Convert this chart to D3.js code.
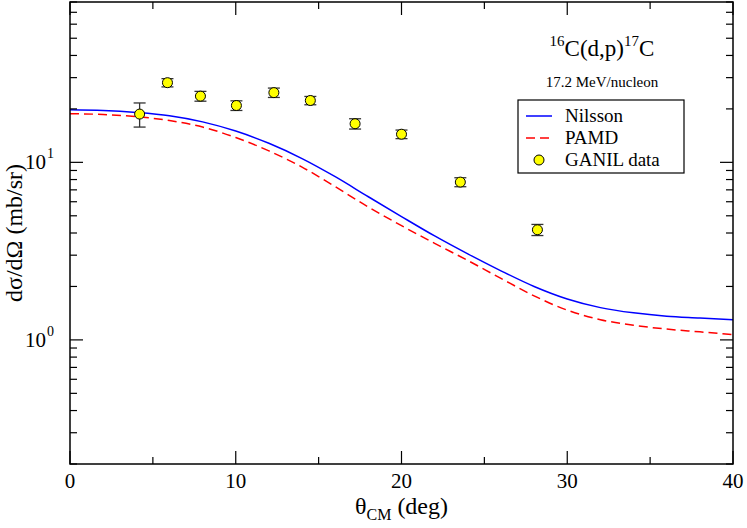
<!DOCTYPE html>
<html><head><meta charset="utf-8">
<script src="https://cdn.jsdelivr.net/npm/d3@7"></script>
<style>body{margin:0;background:#fff}svg{font-family:"Liberation Serif","DejaVu Serif",serif}</style>
</head><body><svg id="c" width="747" height="528"></svg>
<script>
const nilssonX = [0,2,4,6,8,10,12,14,16,18,20,22,24,26,28,30,32,34,36,38,40];
const nilssonY = [19.8,19.6,19.1,18.3,16.9,15.0,12.8,10.5,8.3,6.4,4.95,3.85,3.05,2.45,2.0,1.7,1.52,1.42,1.36,1.33,1.30];
const pamdX = [0,2,4,6,8,10,12,14,16,18,20,22,24,26,28,30,32,34,36,38,40];
const pamdY = [18.8,18.6,18.1,17.2,15.8,13.8,11.6,9.4,7.3,5.6,4.4,3.5,2.8,2.22,1.77,1.47,1.30,1.21,1.15,1.11,1.07];
const dataX = [4.2,5.88,7.87,10.04,12.3,14.5,17.2,20.0,23.55,28.2];
const dataY = [18.7,28.1,23.6,20.9,24.7,22.3,16.5,14.4,7.74,4.17];
const dataErr = [2.9,1.5,1.5,1.3,1.5,1.2,1.1,0.8,0.45,0.3];
const xTicks = [0,10,20,30,40];
const yTicks = [1,10];

const svg = d3.select("#c");
const L=70,R=733,T=2,B=464;
const x = d3.scaleLinear().domain([0,40]).range([L,R]);
const y = d3.scaleLog().domain([0.2,80]).range([B,T]);

const g = svg.append("g");
const line = d3.line().curve(d3.curveMonotoneX);
g.append("path").attr("d", line(pamdX.map((d,i)=>[x(d),y(pamdY[i])]))).attr("fill","none").attr("stroke","#ff0000").attr("stroke-width",1.5).attr("stroke-dasharray","9,5");
g.append("path").attr("d", line(nilssonX.map((d,i)=>[x(d),y(nilssonY[i])]))).attr("fill","none").attr("stroke","#0000ff").attr("stroke-width",1.5);
dataX.forEach((d,i)=>{
  const cx=x(d), y1=y(dataY[i]+dataErr[i]), y2=y(dataY[i]-dataErr[i]);
  const e=g.append("g").attr("stroke","#333").attr("stroke-width",1.3);
  e.append("line").attr("x1",cx).attr("x2",cx).attr("y1",y1).attr("y2",y2);
  e.append("line").attr("x1",cx-6).attr("x2",cx+6).attr("y1",y1).attr("y2",y1);
  e.append("line").attr("x1",cx-6).attr("x2",cx+6).attr("y1",y2).attr("y2",y2);
});
g.selectAll("circle.d").data(dataX).join("circle").attr("cx",d=>x(d)).attr("cy",(d,i)=>y(dataY[i])).attr("r",5).attr("fill","#ffff00").attr("stroke","#000").attr("stroke-width",1);

svg.append("rect").attr("x",L).attr("y",T).attr("width",R-L).attr("height",B-T).attr("fill","none").attr("stroke","#000").attr("stroke-width",1.5);
const tk = svg.append("g").attr("stroke","#000").attr("stroke-width",1.2);
d3.range(0,41,5).forEach(v=>{
  const len = v%10===0?13:7;
  tk.append("line").attr("x1",x(v)).attr("x2",x(v)).attr("y1",B).attr("y2",B-len);
  tk.append("line").attr("x1",x(v)).attr("x2",x(v)).attr("y1",T).attr("y2",T+len);
});
const minors=[0.2,0.3,0.4,0.5,0.6,0.7,0.8,0.9,2,3,4,5,6,7,8,9,20,30,40,50,60,70,80];
minors.forEach(v=>{
  tk.append("line").attr("x1",L).attr("x2",L+7).attr("y1",y(v)).attr("y2",y(v));
  tk.append("line").attr("x1",R).attr("x2",R-7).attr("y1",y(v)).attr("y2",y(v));
});
yTicks.forEach(v=>{
  tk.append("line").attr("x1",L).attr("x2",L+13).attr("y1",y(v)).attr("y2",y(v));
  tk.append("line").attr("x1",R).attr("x2",R-13).attr("y1",y(v)).attr("y2",y(v));
});
xTicks.forEach(v=>svg.append("text").attr("x",x(v)).attr("y",B+24).attr("text-anchor","middle").attr("font-size",21).text(v));
yTicks.forEach(v=>{
  svg.append("text").attr("x",L-24).attr("y",y(v)+7).attr("text-anchor","end").attr("font-size",21).text("10");
  svg.append("text").attr("x",L-23).attr("y",y(v)-4).attr("font-size",14).text(Math.round(Math.log10(v)));
});
const xt=svg.append("text").attr("x",x(20)).attr("y",514).attr("text-anchor","middle").attr("font-size",24);
xt.append("tspan").text("θ");
xt.append("tspan").attr("font-size",16).attr("dy",6).text("CM");
xt.append("tspan").attr("dy",-6).text(" (deg)");
svg.append("text").attr("transform",`translate(22,${(T+B)/2}) rotate(-90)`).attr("text-anchor","middle").attr("font-size",24).text("dσ/dΩ (mb/sr)");
const an=svg.append("text").attr("x",602).attr("y",56).attr("text-anchor","middle").attr("font-size",23);
an.append("tspan").attr("font-size",15).attr("dy",-10).text("16");
an.append("tspan").attr("dy",10).text("C(d,p)");
an.append("tspan").attr("font-size",15).attr("dy",-10).text("17");
an.append("tspan").attr("dy",10).text("C");
svg.append("text").attr("x",602).attr("y",87).attr("text-anchor","middle").attr("font-size",15).text("17.2 MeV/nucleon");
const lg=svg.append("g");
lg.append("rect").attr("x",518).attr("y",100).attr("width",166).attr("height",73).attr("fill","#fff").attr("stroke","#000").attr("stroke-width",1.2);
const items=[["Nilsson","#0000ff",null],["PAMD","#ff0000","9,5"],["GANIL data",null,null]];
items.forEach((it,i)=>{
  const yy=116+i*22;
  if(it[1]) lg.append("line").attr("x1",526).attr("x2",552).attr("y1",yy).attr("y2",yy).attr("stroke",it[1]).attr("stroke-width",1.5).attr("stroke-dasharray",it[2]);
  else lg.append("circle").attr("cx",539).attr("cy",yy).attr("r",5).attr("fill","#ffff00").attr("stroke","#000");
  lg.append("text").attr("x",565).attr("y",yy+6).attr("font-size",19).text(it[0]);
});
</script></body></html>
